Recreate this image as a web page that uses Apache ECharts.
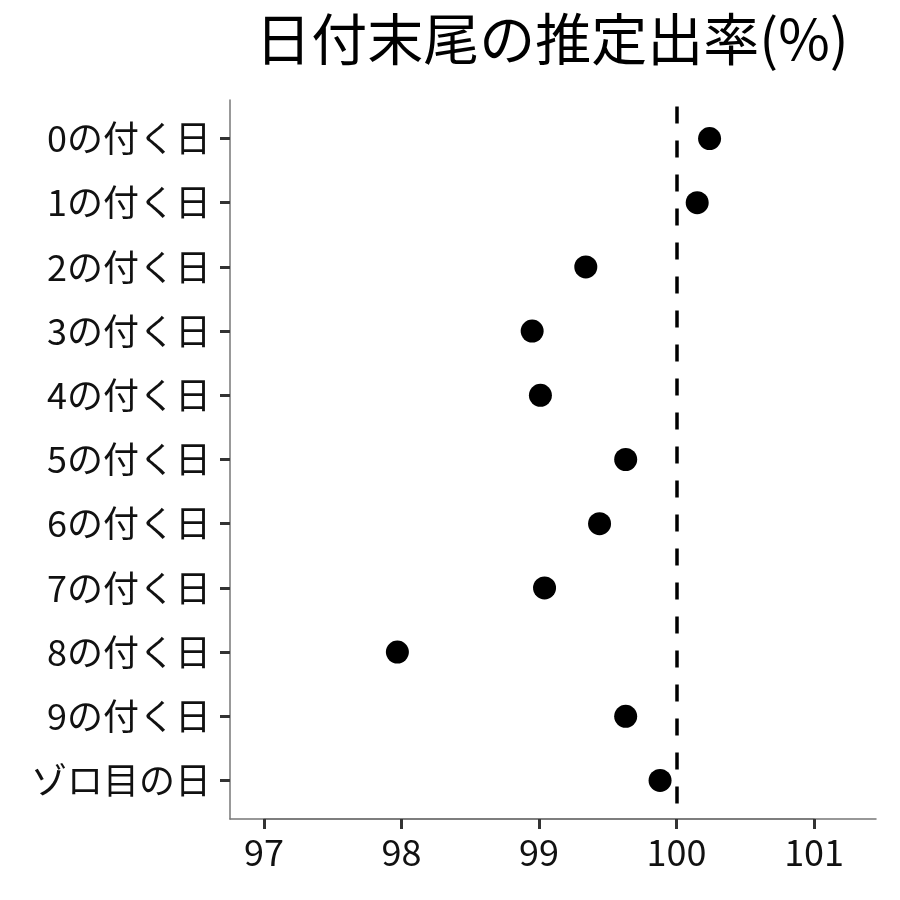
<!DOCTYPE html>
<html><head><meta charset="utf-8">
<script src="https://cdn.jsdelivr.net/npm/echarts@6/dist/echarts.min.js"></script>
<style>html,body{margin:0;padding:0;background:#fff}#c{width:900px;height:900px}</style>
</head><body><div id="c"></div>
<script>
const categories = ["0の付く日","1の付く日","2の付く日","3の付く日","4の付く日","5の付く日","6の付く日","7の付く日","8の付く日","9の付く日","ゾロ目の日"];
const rates = [100.24, 100.15, 99.34, 98.95, 99.01, 99.63, 99.44, 99.04, 97.97, 99.63, 99.88];
const xTicks = ["97", "98", "99", "100", "101"];
const refValue = 100;
const titleText = "日付末尾の推定出率(%)";

const font = "Noto Sans CJK JP";
const W = 900, H = 900;
const F = {left: 230, right: 24, top: 100, bottom: 81};      // panel frame
const xMin = 96.753, xMax = 101.45;
const expand = 0.6;                                           // category padding (in bands)
const fw = W - F.left - F.right, fh = H - F.top - F.bottom;
const band = fh / (categories.length - 1 + 2 * expand);
const pad = (expand - 0.5) * band;
const gridData = {left: F.left, right: F.right, top: F.top + pad, bottom: F.bottom + pad};
const xFirst = Number(xTicks[0]), xLast = Number(xTicks[xTicks.length - 1]);
const gridX = {
  left: F.left + (xFirst - xMin) / (xMax - xMin) * fw,
  right: F.right + (xMax - xLast) / (xMax - xMin) * fw,
  top: F.top, bottom: F.bottom
};
const mkLine = () => ({show: true, onZero: false, lineStyle: {color: '#777', width: 1.5}});
const mkTick = (align) => ({show: true, interval: 0, alignWithLabel: align, length: 10,
  lineStyle: {color: '#333', width: 3}});

const chart = echarts.init(document.getElementById('c'));
chart.setOption({
  animation: false,
  title: {
    text: titleText, left: 547, top: 6, textAlign: 'center',
    textStyle: {fontFamily: font, fontSize: 56, fontWeight: 'normal', color: '#000'}
  },
  grid: [gridData, F, gridX],
  xAxis: [
    {type: 'value', gridIndex: 0, show: false, min: xMin, max: xMax, splitLine: {show: false}},
    {type: 'value', gridIndex: 1, min: xMin, max: xMax,
      axisLine: mkLine(), axisTick: {show: false}, axisLabel: {show: false}, splitLine: {show: false}},
    {type: 'category', gridIndex: 2, data: xTicks, boundaryGap: false,
      axisLine: mkLine(), axisTick: mkTick(false),
      axisLabel: {interval: 0, fontFamily: font, fontSize: 36, color: '#111', margin: 15},
      splitLine: {show: false}}
  ],
  yAxis: [
    {type: 'category', gridIndex: 0, data: categories, inverse: true, boundaryGap: true,
      axisLine: {show: false}, axisTick: mkTick(true),
      axisLabel: {interval: 0, fontFamily: font, fontSize: 36, color: '#111', margin: 19},
      splitLine: {show: false}},
    {type: 'value', gridIndex: 1, min: 0, max: 1,
      axisLine: mkLine(), axisTick: {show: false}, axisLabel: {show: false}, splitLine: {show: false}},
    {type: 'value', gridIndex: 2, show: false, min: 0, max: 1, splitLine: {show: false}}
  ],
  series: [{
    type: 'scatter', xAxisIndex: 0, yAxisIndex: 0,
    data: rates.map((r, i) => [r, categories[i]]),
    symbolSize: 23,
    itemStyle: {color: '#000', opacity: 1},
    markLine: {
      silent: true, symbol: 'none', label: {show: false},
      lineStyle: {type: [17, 17], color: '#000', width: 3.5},
      data: [{xAxis: refValue}]
    }
  }]
});
</script></body></html>
